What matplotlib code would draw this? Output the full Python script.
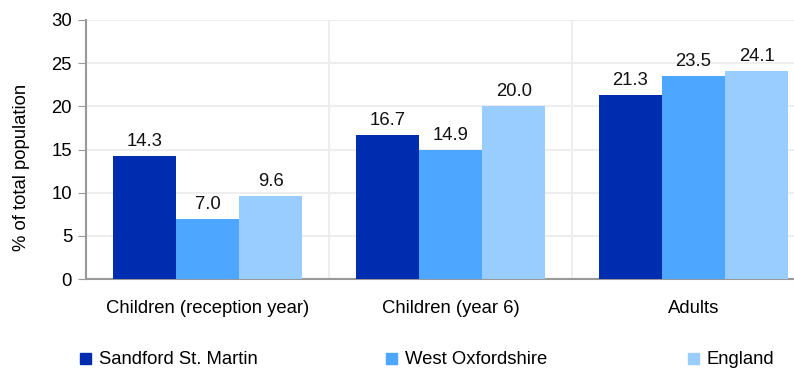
import numpy as np
import matplotlib.pyplot as plt
from matplotlib.patches import Rectangle

plt.rcParams['font.family'] = ['Liberation Sans', 'DejaVu Sans']

categories = ['Children (reception year)', 'Children (year 6)', 'Adults']
series_names = ['Sandford St. Martin', 'West Oxfordshire', 'England']
sandford = [14.3, 16.7, 21.3]
west_oxon = [7.0, 14.9, 23.5]
england = [9.6, 20.0, 24.1]
y_ticks = [0, 5, 10, 15, 20, 25, 30]

colors = ['#002db0', '#4da6ff', '#99ccff']
values = [sandford, west_oxon, england]
fs = 13.3

fig = plt.figure(figsize=(7.94, 3.68), dpi=100)
# axes runs past the right edge in the original
ax = fig.add_axes([86 / 794, 89 / 368, 729 / 794, 259 / 368])

x = np.arange(len(categories))
w = 0.26
for i, (vals, col) in enumerate(zip(values, colors)):
    pos = x + (i - 1) * w
    ax.bar(pos, vals, width=w, color=col, zorder=3)
    for p, v in zip(pos, vals):
        ax.text(p, v + 0.7, f'{v:.1f}', ha='center', va='bottom', fontsize=fs, color='#111111')

ax.set_xlim(-0.5, len(categories) - 0.5)
ax.set_ylim(0, 30)
ax.set_yticks(y_ticks)
ax.tick_params(axis='y', labelsize=fs, length=6, color='#999999', pad=4)
ax.set_xticks(x)
ax.set_xticklabels(categories, fontsize=fs)
ax.tick_params(axis='x', length=0, pad=15)
ax.set_xticks(np.arange(len(categories) + 1) - 0.5, minor=True)
ax.tick_params(axis='x', which='minor', length=0)

ax.grid(axis='y', color='#eeeeee', linewidth=1.5, zorder=0)
ax.grid(axis='x', which='minor', color='#eeeeee', linewidth=1.5, zorder=0)
ax.grid(axis='x', which='major', visible=False)

for s in ['top', 'right']:
    ax.spines[s].set_visible(False)
ax.spines['left'].set_color('#999999')
ax.spines['bottom'].set_color('#999999')
ax.spines['left'].set_linewidth(1.5)
ax.spines['bottom'].set_linewidth(1.5)

ax.set_ylabel('% of total population', fontsize=fs)
ax.yaxis.set_label_coords(-56 / 729, 0.43)

# legend along the bottom
leg_x = [80, 386, 688]
for lx, name, col in zip(leg_x, series_names, colors):
    fig.patches.append(Rectangle((lx / 794, 1 - 364 / 368), 11 / 794, 11 / 368,
                                 transform=fig.transFigure, color=col))
    fig.text((lx + 19) / 794, 1 - 364 / 368, name, fontsize=fs, va='baseline', ha='left')

fig.savefig('out.png', dpi=100)
